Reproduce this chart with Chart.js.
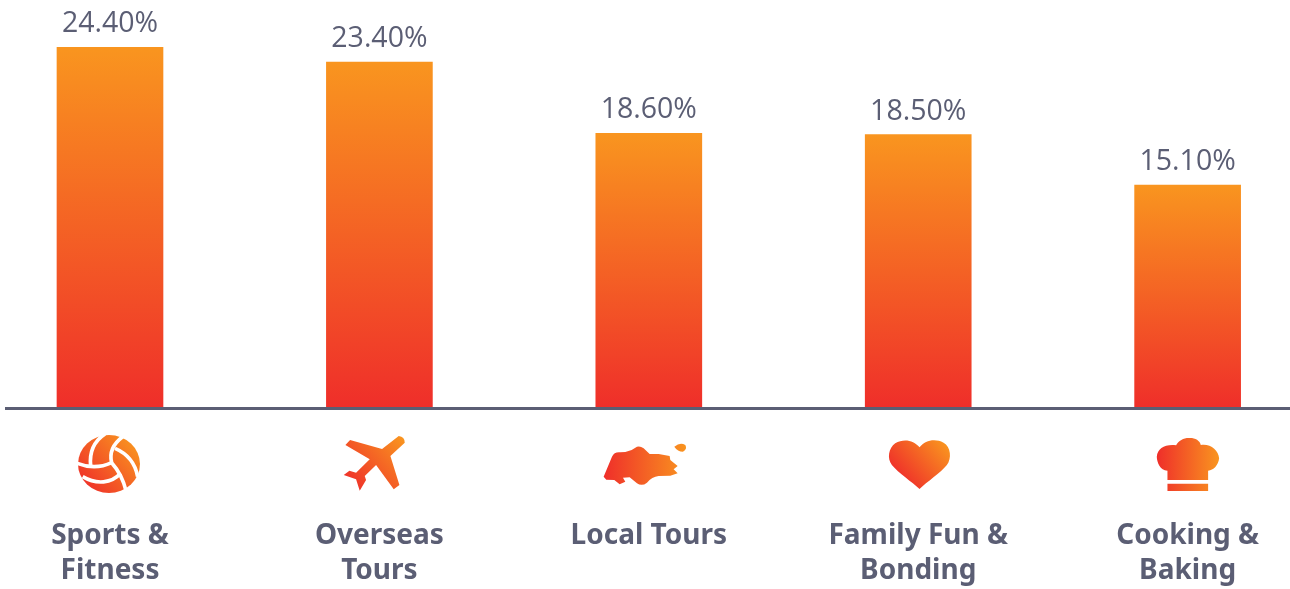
<!DOCTYPE html>
<html>
<head>
<meta charset="utf-8">
<title>Chart</title>
<script src="https://cdn.jsdelivr.net/npm/chart.js@4"></script>
<style>
  html, body { margin: 0; padding: 0; background: #fff; overflow: hidden; }
  #wrap { width: 1290px; height: 589px; }
</style>
</head>
<body>
<div id="wrap"><canvas id="chart"></canvas></div>
<script>
// data
const categories = [['Sports &', 'Fitness'], ['Overseas', 'Tours'], ['Local Tours'], ['Family Fun &', 'Bonding'], ['Cooking &', 'Baking']];
const shares = [24.4, 23.4, 18.6, 18.5, 15.1];

const ORANGE = '#F9951F';
const RED = '#EF2E2A';
const INK = '#5B5E74';

// icons, drawn in 3x units: [x offset from the tick, path, gradient line]
const icons = [
  { dx: -40, grad: [40, 175, 200, 40], ball: true,
    paths: ['M210 102 A93 87 0 1 1 24 102 A93 87 0 1 1 210 102 Z'] },
  { dx: -44, grad: [40, 170, 205, 25],
    paths: ['M190 18 Q208 20 208 38 L165 78 L192 165 L175 178 L122 105 L88 138 L92 150 L73 182 L62 148 L25 135 L42 122 L62 128 L103 88 L30 45 L44 30 L140 57 Z'] },
  { dx: -58.5, grad: [40, 100, 290, 100],
    paths: ['M40 140 L65 80 Q72 65 90 67 L105 66 Q125 62 140 50 Q150 47 160 55 L178 72 L205 72 L238 78 L240 90 L262 108 L250 118 L262 130 L240 137 L205 138 Q185 140 170 158 Q155 170 140 160 L118 142 L98 143 L105 155 L88 163 L72 150 L48 149 Z',
            'M252 50 Q270 35 285 45 Q292 58 278 65 Q262 65 252 50 Z'] },
  { dx: -38, grad: [60, 150, 195, 35],
    paths: ['M118 52 C100 30 70 25 45 40 C25 55 20 85 35 105 C55 130 95 155 118 177 C140 155 180 130 200 105 C215 85 212 50 190 38 C165 25 135 30 118 52 Z'] },
  { dx: -37.5, grad: [20, 100, 207, 100],
    paths: ['M52 150 L52 122 C30 122 20 95 20 80 C22 55 45 42 78 46 C85 30 105 22 120 24 C135 24 150 32 152 45 C180 40 205 60 207 85 C205 105 190 122 174 122 L174 150 Z',
            'M52 161 H174 V183 H52 Z'] }
];
const ballSeams = [
  'M105 12 C70 35 58 70 62 108',
  'M158 20 C125 45 118 70 125 98 C140 115 158 140 168 182',
  'M22 100 C60 115 95 112 125 98',
  'M38 140 C80 165 125 160 152 130',
  'M135 55 C170 70 195 95 203 140'
];

// gradient per bar, top of the bar to the baseline
function barGradient(ctx) {
  const chart = ctx.chart;
  if (!chart.chartArea || ctx.dataIndex === undefined) return RED;
  const top = chart.scales.y.getPixelForValue(shares[ctx.dataIndex]);
  const g = chart.ctx.createLinearGradient(0, top, 0, chart.chartArea.bottom);
  g.addColorStop(0, ORANGE);
  g.addColorStop(1, RED);
  return g;
}

const valueLabels = {
  id: 'valueLabels',
  afterDatasetsDraw(chart) {
    const c = chart.ctx;
    c.save();
    c.font = '400 28.5px "Open Sans"';
    c.fillStyle = INK;
    c.textAlign = 'center';
    c.textBaseline = 'alphabetic';
    shares.forEach((v, i) => {
      c.fillText(v.toFixed(2) + '%', chart.scales.x.getPixelForValue(i), chart.scales.y.getPixelForValue(v) - 15);
    });
    c.restore();
  }
};

const iconRow = {
  id: 'iconRow',
  afterDraw(chart) {
    const c = chart.ctx;
    icons.forEach((icon, i) => {
      c.save();
      c.translate(chart.scales.x.getPixelForValue(i) + icon.dx, 430);
      c.scale(1 / 3, 1 / 3);
      const g = c.createLinearGradient(...icon.grad);
      g.addColorStop(0, RED);
      g.addColorStop(1, ORANGE);
      c.fillStyle = g;
      icon.paths.forEach(p => c.fill(new Path2D(p)));
      if (icon.ball) {
        c.strokeStyle = '#fff';
        c.lineWidth = 11;
        ballSeams.forEach(p => c.stroke(new Path2D(p)));
      }
      c.restore();
    });
  }
};

new Chart(document.getElementById('chart'), {
  type: 'bar',
  data: {
    datasets: [{
      data: shares.map((v, i) => ({ x: i, y: v })),
      backgroundColor: barGradient,
      barThickness: 106
    }]
  },
  options: {
    responsive: true,
    maintainAspectRatio: false,
    animation: false,
    layout: { padding: { left: 6, right: 0, top: 0, bottom: 0 } },
    plugins: { legend: { display: false }, tooltip: { enabled: false } },
    scales: {
      x: {
        type: 'linear',
        offset: false,
        min: -0.386,
        max: 4.38,
        grid: { display: false, drawTicks: false },
        border: { display: true, color: INK, width: 3, z: 1 },
        afterFit(scale) {
          scale.height = 180.5;
          scale.paddingLeft = 0;
          scale.paddingRight = 0;
        },
        ticks: {
          stepSize: 1,
          includeBounds: false,
          autoSkip: false,
          maxRotation: 0,
          minRotation: 0,
          padding: 110,
          color: INK,
          font: { family: '"Noto Sans"', size: 28, weight: '700', lineHeight: 1.25 },
          callback: v => categories[v]
        }
      },
      y: { display: false, min: 0, max: 27.6 }
    }
  },
  plugins: [valueLabels, iconRow]
});
</script>
</body>
</html>
